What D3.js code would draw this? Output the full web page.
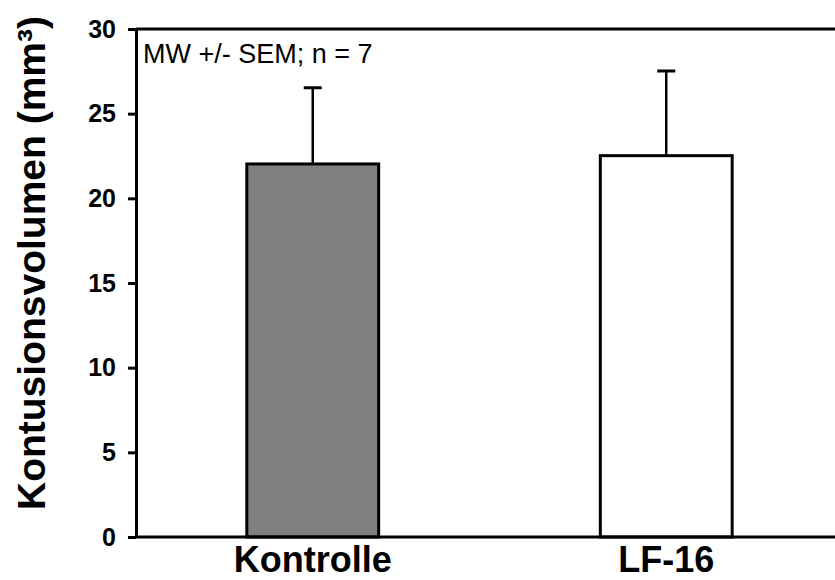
<!DOCTYPE html>
<html><head><meta charset="utf-8">
<script src="https://cdn.jsdelivr.net/npm/d3@7"></script>
<style>body{margin:0;background:#fff}svg{display:block}</style>
</head><body>
<svg id="c" width="835" height="580"></svg>
<script>
const categories = ["Kontrolle", "LF-16"];
const means = [22.03, 22.52];
const sems = [4.5, 5.0];
const fills = ["#808080", "#ffffff"];
const yTicks = [0, 5, 10, 15, 20, 25, 30];
const yTitle = "Kontusionsvolumen (mm³)";
const note = "MW +/- SEM; n = 7";

const svg = d3.select("#c");
const L = 136, R = 843, T = 29, B = 537;
const x = d3.scaleBand().domain(categories).range([L, R]).paddingInner(0.627).paddingOuter(0.3135);
const y = d3.scaleLinear().domain([0, 30]).range([B, T]);
const font = "'Liberation Sans', Arial, sans-serif";

// bars
svg.selectAll("rect.bar").data(categories).join("rect")
  .attr("x", d => x(d)).attr("y", (d,i) => y(means[i]))
  .attr("width", x.bandwidth()).attr("height", (d,i) => B - y(means[i]))
  .attr("fill", (d,i) => fills[i]).attr("stroke", "#000").attr("stroke-width", 3);

// error bars
const eg = svg.append("g");
categories.forEach((c, i) => {
  const cx = x(c) + x.bandwidth() / 2;
  eg.append("line").attr("x1", cx).attr("x2", cx).attr("y1", y(means[i])).attr("y2", y(means[i] + sems[i]))
    .attr("stroke", "#000").attr("stroke-width", 2.5);
  eg.append("line").attr("x1", cx - 9).attr("x2", cx + 9).attr("y1", y(means[i] + sems[i])).attr("y2", y(means[i] + sems[i]))
    .attr("stroke", "#000").attr("stroke-width", 3);
});

// top border
svg.append("line").attr("x1", L).attr("x2", R).attr("y1", T).attr("y2", T).attr("stroke", "#000").attr("stroke-width", 3);
// bottom axis line
svg.append("line").attr("x1", L).attr("x2", R).attr("y1", B).attr("y2", B).attr("stroke", "#000").attr("stroke-width", 3);

// y axis
const ya = svg.append("g").attr("transform", `translate(${L},0)`)
  .call(d3.axisLeft(y).tickValues(yTicks).tickSize(8).tickPadding(12).tickSizeOuter(0));
ya.select(".domain").attr("stroke-width", 3);
ya.selectAll(".tick line").attr("stroke-width", 3);
ya.selectAll(".tick text").attr("font-family", font).attr("font-weight", "bold").attr("font-size", 25).attr("fill", "#000");

// x labels
svg.selectAll("text.xl").data(categories).join("text")
  .attr("x", d => x(d) + x.bandwidth() / 2).attr("y", 572)
  .attr("text-anchor", "middle").attr("font-family", font).attr("font-weight", "bold").attr("font-size", 36)
  .text(d => d);

// y title
svg.append("text").attr("transform", "translate(45,263) rotate(-90)")
  .attr("text-anchor", "middle").attr("font-family", font).attr("font-weight", "bold").attr("font-size", 39)
  .text(yTitle);

// note
svg.append("text").attr("x", 143).attr("y", 63).attr("font-family", font).attr("font-size", 27).text(note);
</script>
</body></html>
